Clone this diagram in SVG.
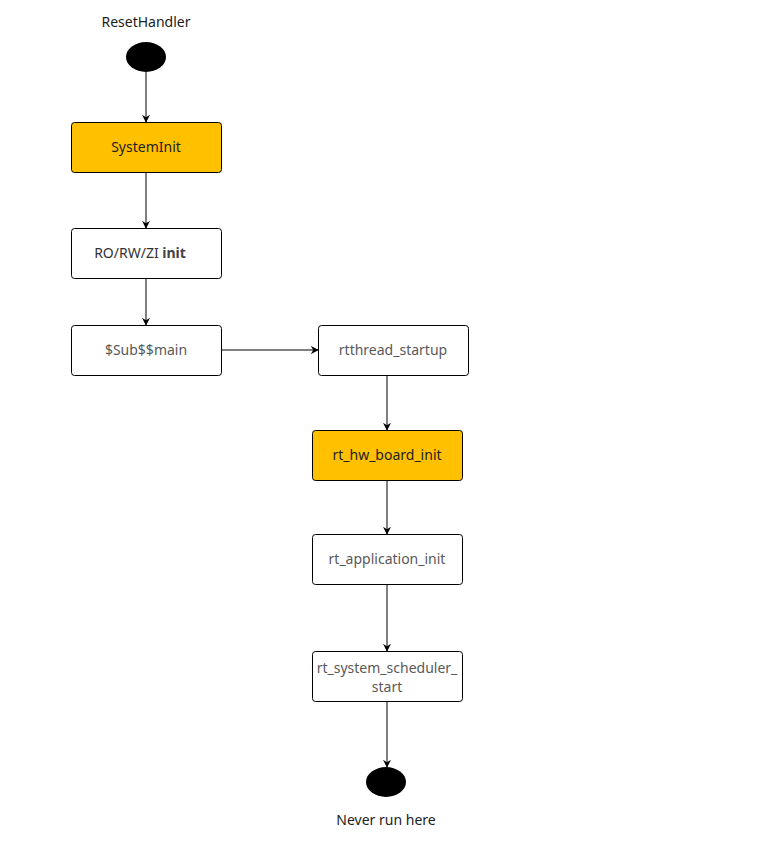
<svg xmlns="http://www.w3.org/2000/svg" width="760" height="852" viewBox="0 0 760 852">
<style>
text{font-family:"Noto Sans","Open Sans",sans-serif;font-size:14px;text-anchor:middle}
.b{stroke:#000;stroke-width:1}
.w{fill:#fff}
.y{fill:#FFC000}
.d{fill:#222}
.g{fill:#595959}
.c{stroke:#000;stroke-width:1;fill:none;marker-end:url(#a)}
</style>
<defs><marker id="a" viewBox="0 0 10 10" refX="9" refY="5" markerWidth="8" markerHeight="8" markerUnits="userSpaceOnUse" orient="auto"><path d="M0,0L10,5L0,10L3,5Z" fill="#000"/></marker></defs>
<rect width="760" height="852" fill="#fff"/>
<g id="connectors">
<path class="c" d="M146,72V122"/>
<path class="c" d="M146,172V228"/>
<path class="c" d="M146,278V325"/>
<path class="c" d="M221,350H318"/>
<path class="c" d="M387,375V430"/>
<path class="c" d="M387,480V534"/>
<path class="c" d="M387,584V651"/>
<path class="c" d="M387,701V767"/>
</g>
<g id="start"><text x="146" y="27" class="d">ResetHandler</text><ellipse cx="146" cy="57" rx="20" ry="15"/></g>
<g id="systeminit"><rect x="71.5" y="122.5" width="150" height="50" rx="3" class="b y"/><text x="146" y="152" class="d">SystemInit</text></g>
<g id="rorwzi"><rect x="71.5" y="228.5" width="150" height="50" rx="3" class="b w"/><text x="140" y="258" fill="#333">RO/RW/ZI <tspan font-weight="bold" fill="#444">init</tspan></text></g>
<g id="submain"><rect x="71.5" y="325.5" width="150" height="50" rx="3" class="b w"/><text x="146" y="355" class="g">$Sub$$main</text></g>
<g id="rtthread"><rect x="318.5" y="325.5" width="150" height="50" rx="3" class="b w"/><text x="393" y="355" class="g">rtthread_startup</text></g>
<g id="hwboard"><rect x="312.5" y="430.5" width="150" height="50" rx="3" class="b y"/><text x="387" y="460" class="d">rt_hw_board_init</text></g>
<g id="appinit"><rect x="312.5" y="534.5" width="150" height="50" rx="3" class="b w"/><text x="387" y="564" class="g">rt_application_init</text></g>
<g id="scheduler"><rect x="312.5" y="651.5" width="150" height="50" rx="3" class="b w"/><text x="387" y="673" class="g">rt_system_scheduler_</text><text x="387" y="692" class="g">start</text></g>
<g id="end"><ellipse cx="386" cy="782" rx="20" ry="15"/><text x="386" y="825" class="d">Never run here</text></g>
</svg>
